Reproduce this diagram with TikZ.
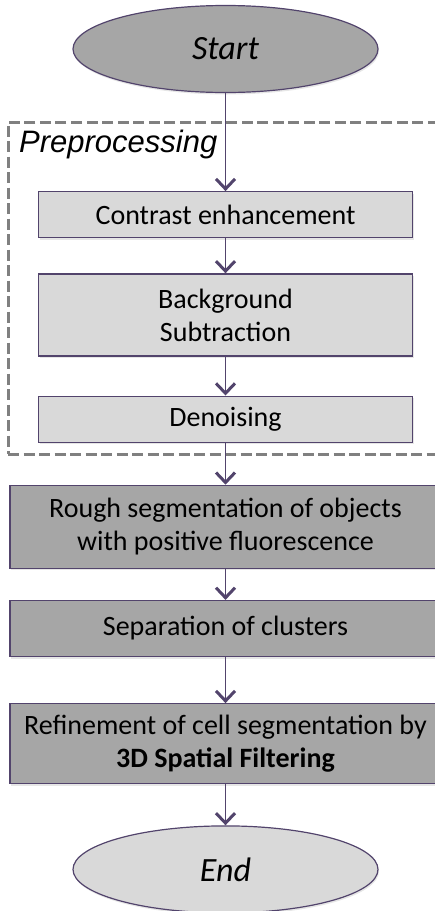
\documentclass[tikz,border=0pt]{standalone}
\usepackage{fontspec}
\setmainfont{Carlito}
\newfontfamily\arialfont{Liberation Sans}
\usepackage{tikz}
\usetikzlibrary{positioning,arrows.meta,shapes.geometric,shadows}

\definecolor{linepurple}{RGB}{82,68,108}
\definecolor{darkfill}{RGB}{166,166,166}
\definecolor{lightfill}{RGB}{217,217,217}
\definecolor{framegray}{RGB}{128,128,128}

\begin{document}
\begin{tikzpicture}[
			x=1pt, y=1pt,
			every node/.style={font=\fontsize{28}{33}\selectfont, align=center, inner sep=0pt},
			endnode/.style={ellipse, draw=linepurple, line width=1.2pt, minimum width=305pt, minimum height=87pt,
				font=\fontsize{34}{40}\selectfont\itshape, drop shadow={opacity=.2, shadow xshift=1pt, shadow yshift=-2pt}},
			prebox/.style={rectangle, draw=linepurple, line width=1.2pt, fill=lightfill, minimum width=374pt,
				drop shadow={opacity=.2, shadow xshift=1pt, shadow yshift=-2pt}},
			mainbox/.style={rectangle, draw=linepurple, line width=1.2pt, fill=darkfill, minimum width=431pt,
				drop shadow={opacity=.2, shadow xshift=1pt, shadow yshift=-2pt}},
			frame/.style={rectangle, draw=framegray, line width=3pt, dash pattern=on 11pt off 4.5pt,
				minimum width=429pt, minimum height=332pt},
			flow/.style={draw=linepurple, line width=1.3pt, -{Straight Barb[length=10pt, width=19pt, line width=3pt]}},
		]
		
			\useasboundingbox (0,0) rectangle (435,-911);
		
			%Nodes
			\node[frame]							(prep)		at (222.5,-288)		{};
			\node[anchor=base west, font=\arialfont\fontsize{31}{37}\selectfont\itshape]
													(preplabel)	at (19,-152)		{Preprocessing};
			\node[endnode, fill=darkfill]			(start)		at (225.5,-49)		{Start};
			\node[prebox, minimum height=46pt]		(contrast)	[below=98pt of start]	{Contrast enhancement};
			\node[prebox, minimum height=82pt]		(backsub)	[below=35pt of contrast]	{Background\\Subtraction};
			\node[prebox, minimum height=46pt]		(denoise)	[below=39pt of backsub]	{Denoising};
			\node[mainbox, minimum height=83pt]		(rough)		[below=42pt of denoise]	{Rough segmentation of objects\\with positive fluorescence};
			\node[mainbox, minimum height=56pt]		(separate)	[below=31pt of rough]	{Separation of clusters};
			\node[mainbox, minimum height=80pt]		(refine)		[below=46pt of separate]	{Refinement of cell segmentation by\\\textbf{3D Spatial Filtering}};
			\node[endnode, fill=lightfill]			(end)		[below=41pt of refine]	{End};
		
			%Lines
			\draw[flow]	(start.south) -- (contrast.north);
			\draw[flow]	(contrast.south) -- (backsub.north);
			\draw[flow]	(backsub.south) -- (denoise.north);
			\draw[flow]	(denoise.south) -- (rough.north);
			\draw[flow]	(rough.south) -- (separate.north);
			\draw[flow]	(separate.south) -- (refine.north);
			\draw[flow]	(refine.south) -- (end.north);
		
		\end{tikzpicture}
\end{document}
